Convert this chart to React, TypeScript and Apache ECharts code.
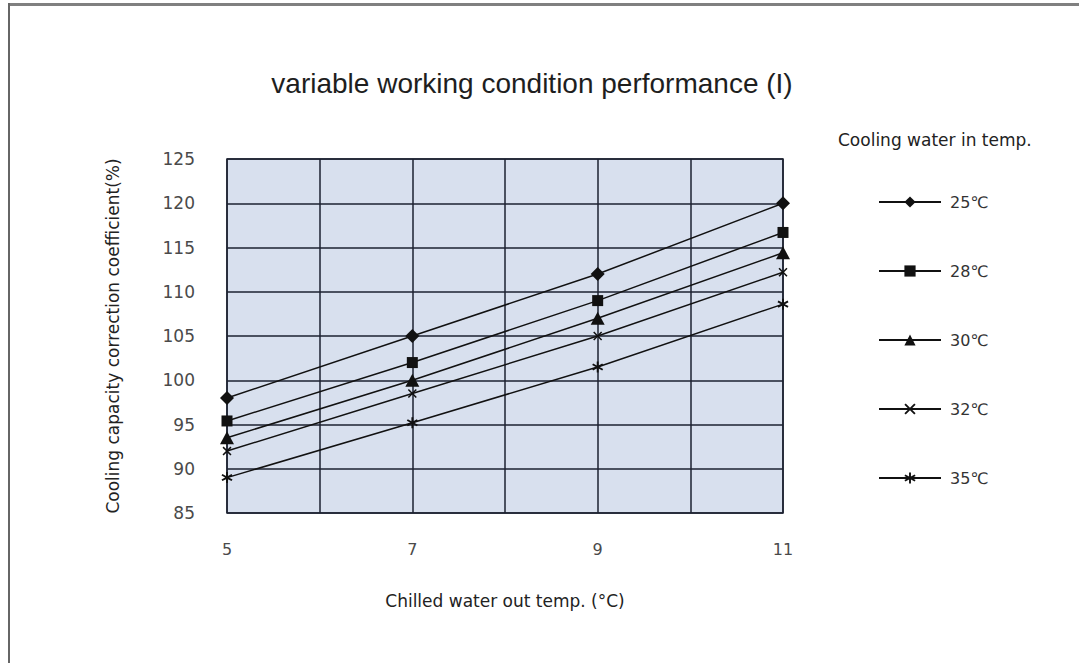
import React, { useEffect, useRef } from "react";
import * as echarts from "echarts";

const xValues = [5, 7, 9, 11];
const seriesNames = ["25℃", "28℃", "30℃", "32℃", "35℃"];
const s25 = [98, 105, 112, 120];
const s28 = [95.4, 102, 109, 116.7];
const s30 = [93.5, 100, 107, 114.4];
const s32 = [92, 98.5, 105, 112.2];
const s35 = [89, 95.2, 101.5, 108.6];
const allValues = [s25, s28, s30, s32, s35];

const xSym = "path://M0,1.2 L1.2,0 L5,3.8 L8.8,0 L10,1.2 L6.2,5 L10,8.8 L8.8,10 L5,6.2 L1.2,10 L0,8.8 L3.8,5 Z";
const starSym =
  "path://M4.2,0 L5.8,0 L5.8,3.6 L8.9,1.8 L9.7,3.2 L6.6,5 L9.7,6.8 L8.9,8.2 L5.8,6.4 L5.8,10 L4.2,10 L4.2,6.4 L1.1,8.2 L0.3,6.8 L3.4,5 L0.3,3.2 L1.1,1.8 L4.2,3.6 Z";
const symbols = ["diamond", "rect", "triangle", xSym, starSym];
const symbolSizes: any[] = [[14, 14], [11, 11], [14, 13], [9, 9], [11, 11]];

export default function App() {
  const ref = useRef<HTMLDivElement>(null);
  useEffect(() => {
    const chart = echarts.init(ref.current!, null, { renderer: "svg" });
    const font = "'DejaVu Sans', 'Liberation Sans', Arial, sans-serif";
    const titleFont = "'Liberation Sans', Arial, sans-serif";
    chart.setOption({
      animation: false,
      backgroundColor: "#ffffff",
      title: {
        text: "variable working condition performance (I)",
        left: 527,
        top: 64,
        textAlign: "center",
        textStyle: { fontFamily: titleFont, fontSize: 28, fontWeight: "normal", color: "#1e1e1e" },
      },
      graphic: [
        { type: "rect", shape: { x: 8, y: 3, width: 1071, height: 3 }, style: { fill: "#808080" } },
        { type: "rect", shape: { x: 8, y: 3, width: 2, height: 660 }, style: { fill: "#666666" } },
        {
          type: "text",
          left: 838,
          top: 131,
          style: { text: "Cooling water in temp.", fontFamily: font, fontSize: 17, fill: "#222" },
        },
      ],
      legend: {
        orient: "vertical",
        left: 878,
        top: 194,
        padding: 0,
        itemWidth: 62,
        itemHeight: 14,
        itemGap: 53,
        data: seriesNames,
        textStyle: { fontFamily: font, fontSize: 16, color: "#333", padding: [0, 0, 0, 4] },
      },
      grid: {
        left: 227,
        top: 159,
        right: 296,
        bottom: 150,
        show: true,
        backgroundColor: "#d8e0ee",
        borderColor: "#1c2230",
        borderWidth: 1.5,
      },
      xAxis: {
        type: "value",
        min: 5,
        max: 11,
        interval: 1,
        name: "Chilled water out temp. (°C)",
        nameLocation: "middle",
        nameGap: 79,
        nameTextStyle: { fontFamily: font, fontSize: 17, color: "#222" },
        axisLine: { show: false },
        axisTick: { show: false },
        axisLabel: {
          margin: 28,
          fontFamily: font,
          fontSize: 16,
          color: "#4a4a4a",
          formatter: (v: number) => (v % 2 === 1 ? String(v) : ""),
        },
        splitLine: { show: true, lineStyle: { color: "#1c2230", width: 1.5 } },
      },
      yAxis: {
        type: "value",
        min: 85,
        max: 125,
        interval: 5,
        name: "Cooling capacity correction coefficient(%)",
        nameLocation: "middle",
        nameGap: 106,
        nameTextStyle: { fontFamily: font, fontSize: 17, color: "#222" },
        axisLine: { show: false },
        axisTick: { show: false },
        axisLabel: { margin: 32, fontFamily: font, fontSize: 17, color: "#4a4a4a" },
        splitLine: { show: true, lineStyle: { color: "#1c2230", width: 1.5 } },
      },
      series: seriesNames.map((name, i) => ({
        name,
        type: "line",
        data: xValues.map((x, j) => [x, allValues[i][j]]),
        symbol: symbols[i],
        symbolSize: symbolSizes[i],
        showSymbol: true,
        lineStyle: { color: "#111", width: 1.5 },
        itemStyle: { color: "#111" },
        z: 3,
      })),
    });
    return () => chart.dispose();
  }, []);
  return <div ref={ref} style={{ position: "fixed", left: 0, top: 0, width: 1079, height: 663 }} />;
}
